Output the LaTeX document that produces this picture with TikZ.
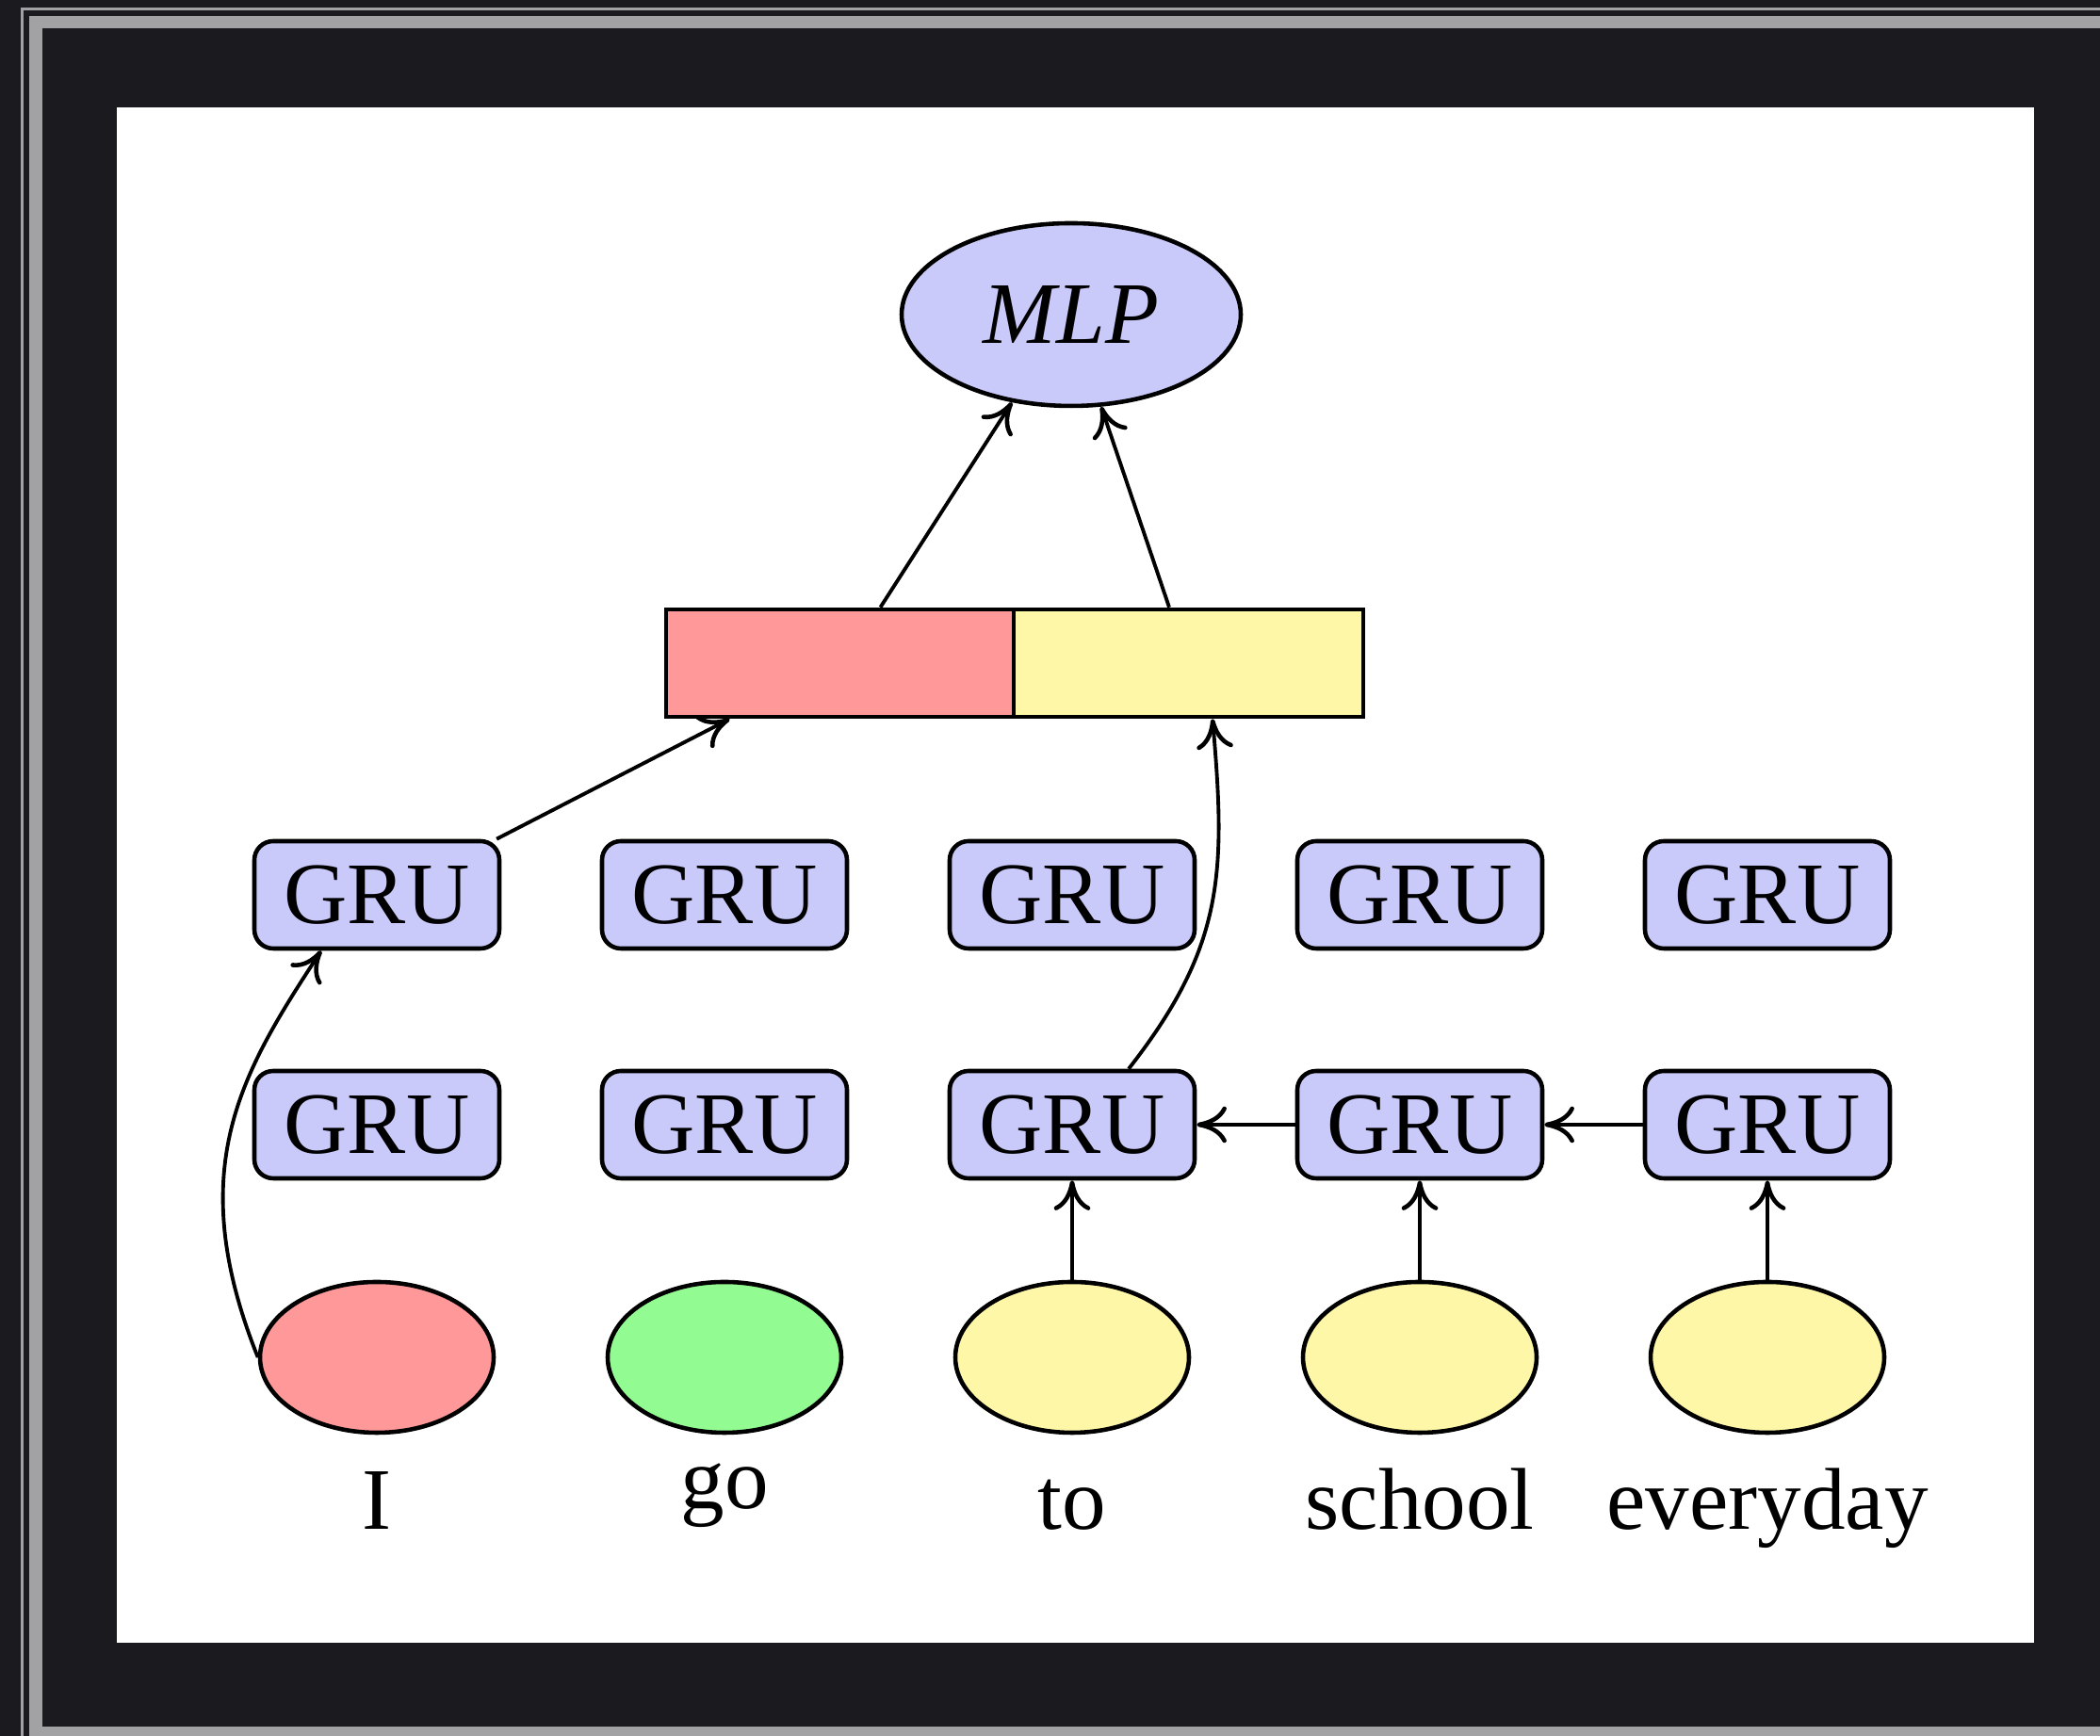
\documentclass[tikz,border=0pt]{standalone}
\usepackage{fontspec}
\setmainfont{Liberation Serif}
\usetikzlibrary{arrows.meta,shapes.geometric,calc}
\definecolor{bgdark}{HTML}{1B1B1F}
\definecolor{framegrey}{HTML}{A2A2A4}
\definecolor{grublue}{HTML}{CACAFA}
\definecolor{wred}{HTML}{FF9898}
\definecolor{wyellow}{HTML}{FFF7A8}
\definecolor{wgreen}{HTML}{92FB92}
\begin{document}
\begin{tikzpicture}[
  font=\fontsize{26.5}{30}\selectfont,
  grubox/.style={draw, line width=1.3pt, fill=grublue, rounded corners=0.2cm, minimum width=2.6cm, minimum height=1.14cm, inner sep=0pt},
  word/.style={draw, line width=1.3pt, ellipse, minimum width=2.48cm, minimum height=1.6cm, inner sep=0pt},
  barbox/.style={draw, line width=1.3pt, minimum height=1.14cm, inner sep=0pt},
  lbl/.style={anchor=base, inner sep=0pt},
  conn/.style={line width=1.1pt, -{To[length=9pt,width=11pt,line width=1.3pt]}},
]
% background and frame
\fill[bgdark] (0,0) rectangle (22.29,18.43);
\useasboundingbox (0,0) rectangle (22.29,18.43);
\fill[framegrey] (0.22,0) rectangle (0.25,18.35);
\fill[framegrey] (0.22,18.32) rectangle (22.29,18.35);
\fill[framegrey] (0.31,0) rectangle (0.45,18.26);
\fill[framegrey] (0.31,18.13) rectangle (22.29,18.26);
\fill[framegrey] (0.31,0) rectangle (22.29,0.10);
\fill[white] (1.24,0.99) rectangle (21.59,17.29);

% nodes
\node[draw, line width=1.3pt, ellipse, fill=grublue, minimum width=3.6cm, minimum height=1.94cm, inner sep=0pt] (mlp) at (11.37,15.09) {\itshape MLP};
\node[barbox, fill=wred, minimum width=3.69cm] (barL) at (8.915,11.39) {};
\node[barbox, fill=wyellow, minimum width=3.71cm] (barR) at (12.615,11.39) {};

\foreach \i/\x in {1/4.0,2/7.69,3/11.38,4/15.07,5/18.76} {
  \node[grubox] (t\i) at (\x,8.93) {GRU};
  \node[grubox] (b\i) at (\x,6.49) {GRU};
}
\node[word, fill=wred] (w1) at (4.0,4.02) {};
\node[word, fill=wgreen] (w2) at (7.69,4.02) {};
\node[word, fill=wyellow] (w3) at (11.38,4.02) {};
\node[word, fill=wyellow] (w4) at (15.07,4.02) {};
\node[word, fill=wyellow] (w5) at (18.76,4.02) {};

\node[lbl] (l1) at (4.0,2.19) {I};
\node[lbl] (l2) at (7.69,2.41) {go};
\node[lbl] (l3) at (11.38,2.19) {to};
\node[lbl] (l4) at (15.07,2.19) {school};
\node[lbl] (l5) at (18.76,2.19) {everyday};

% connectors
\draw[conn] ([xshift=0.43cm]barL.north) -- (mlp.-124);
\draw[conn] ([xshift=-0.205cm]barR.north) -- (mlp.-72);
\draw[conn] (t1.25) -- ([xshift=-1.17cm]barL.south);
\draw[conn] ([xshift=0.6cm]b3.north) to[out=52,in=-85,looseness=1.1] ([xshift=0.255cm]barR.south);
\draw[conn] (w1.west) .. controls +(-0.8,2.0) and +(-0.85,-1.3) .. ([xshift=-0.59cm]t1.south);
\draw[conn] (b5.west) -- (b4.east);
\draw[conn] (b4.west) -- (b3.east);
\draw[conn] (w3.north) -- (b3.south);
\draw[conn] (w4.north) -- (b4.south);
\draw[conn] (w5.north) -- (b5.south);
\end{tikzpicture}
\end{document}
